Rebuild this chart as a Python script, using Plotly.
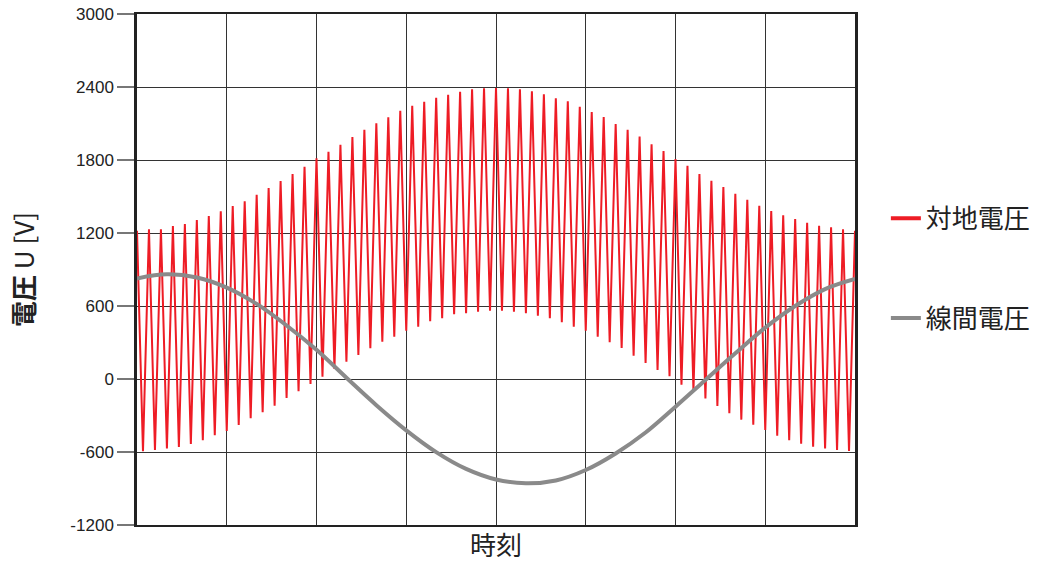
import plotly.graph_objects as go

# --- data ---
peak_values = [1219, 1230, 1230, 1258, 1274, 1307, 1340, 1378, 1422, 1461, 1515, 1570, 1627, 1685,
               1745, 1814, 1868, 1926, 1989, 2049, 2101,
               2151, 2205, 2246, 2279, 2312, 2337, 2361, 2381, 2389, 2392, 2389, 2381, 2365, 2340,
               2307, 2282, 2238, 2194, 2153, 2096,
               2049, 1992, 1929, 1874, 1808, 1753, 1685, 1630, 1578, 1523, 1474, 1424, 1381, 1345,
               1315, 1285, 1260, 1247, 1230, 1219]
trough_values = [-594, -584, -570, -559, -534, -504, -463, -427, -378, -323, -274, -219, -156, -101,
                 -41, 19, 82, 142, 197, 252,
                 307, 348, 397, 430, 474, 499, 532, 540, 553, 561,
                 561, 553, 540, 521, 499, 466, 430, 397, 348, 302,
                 255, 192, 132, 74, 22, -47, -101, -159, -222, -282, -334, -375, -419, -466,
                 -504, -532, -556, -570, -584, -592]
line_time = [0, 2.5, 5, 7.5, 10, 12.5, 15, 17.5, 20, 22.5, 25, 27.5, 30,
             32.5, 35, 37.5, 40, 42.5, 45, 47.5, 50, 52.5, 55, 57.5, 60]
line_values = [826, 860, 834, 751, 617, 440, 240, 10, -215, -422, -601, -739, -826,
               -857, -834, -748, -612, -440, -228, -8, 211, 422, 600, 739, 822]
y_ticks = [-1200, -600, 0, 600, 1200, 1800, 2400, 3000]
series_names = ["対地電圧", "線間電圧"]
series_colors = ["#ee1c25", "#8a8a8a"]

# interleave peaks and troughs of the ground voltage
ground_t, ground_v = [], []
for k, pv in enumerate(peak_values):
    ground_t.append(k)
    ground_v.append(pv)
    if k < len(trough_values):
        ground_t.append(k + 0.5)
        ground_v.append(trough_values[k])

FONT = "Liberation Sans, Arial, Noto Sans CJK JP, sans-serif"
CJK = "Noto Sans CJK JP, Liberation Sans, sans-serif"

fig = go.Figure()
fig.add_trace(go.Scatter(x=ground_t, y=ground_v, mode="lines", name=series_names[0],
                         showlegend=False,
                         line=dict(color=series_colors[0], width=2)))
fig.add_trace(go.Scatter(x=line_time, y=line_values, mode="lines", name=series_names[1],
                         showlegend=False,
                         line=dict(color=series_colors[1], width=4, shape="spline")))
# legend entries (thicker sample lines, as in the reference)
for i, nm in enumerate(series_names):
    fig.add_trace(go.Scatter(x=[None], y=[None], mode="lines", name=nm,
                             legendgroup=nm, showlegend=True,
                             line=dict(color=series_colors[i], width=4)))

fig.update_layout(
    width=1037, height=565,
    margin=dict(l=137, r=182, t=14, b=40, autoexpand=False),
    paper_bgcolor="white", plot_bgcolor="white",
    font=dict(family=FONT, size=17, color="#222"),
    showlegend=True,
    legend=dict(x=1.043, y=0.646, xanchor="left", yanchor="top",
                font=dict(family=CJK, size=26, color="#222"),
                traceorder="grouped", tracegroupgap=63,
                bgcolor="rgba(0,0,0,0)"),
    xaxis=dict(range=[0, 60], dtick=7.5, tick0=0, showticklabels=False,
               showgrid=True, gridcolor="#333", gridwidth=1,
               showline=True, linecolor="#222", linewidth=2, mirror=True,
               zeroline=False, automargin=False,
               title=dict(text="時刻", font=dict(family=CJK, size=26, color="#222"),
                          standoff=11)),
    yaxis=dict(range=[-1200, 3000], tickvals=y_ticks,
               ticktext=[str(v) for v in y_ticks],
               showgrid=True, gridcolor="#333", gridwidth=1,
               showline=True, linecolor="#222", linewidth=2.5, mirror=True,
               zeroline=False, ticks="outside", ticklen=17, tickcolor="#777",
               tickwidth=1.5, automargin=False, ticklabeloverflow="allow",
               tickfont=dict(family=FONT, size=17, color="#222"),
               title=dict(text="<b>電圧</b> U [V]",
                          font=dict(family=CJK, size=26, color="#222"),
                          standoff=29)),
)

fig.write_html("out.html", config={"displayModeBar": False},
               post_script="document.body.style.margin='0';")
